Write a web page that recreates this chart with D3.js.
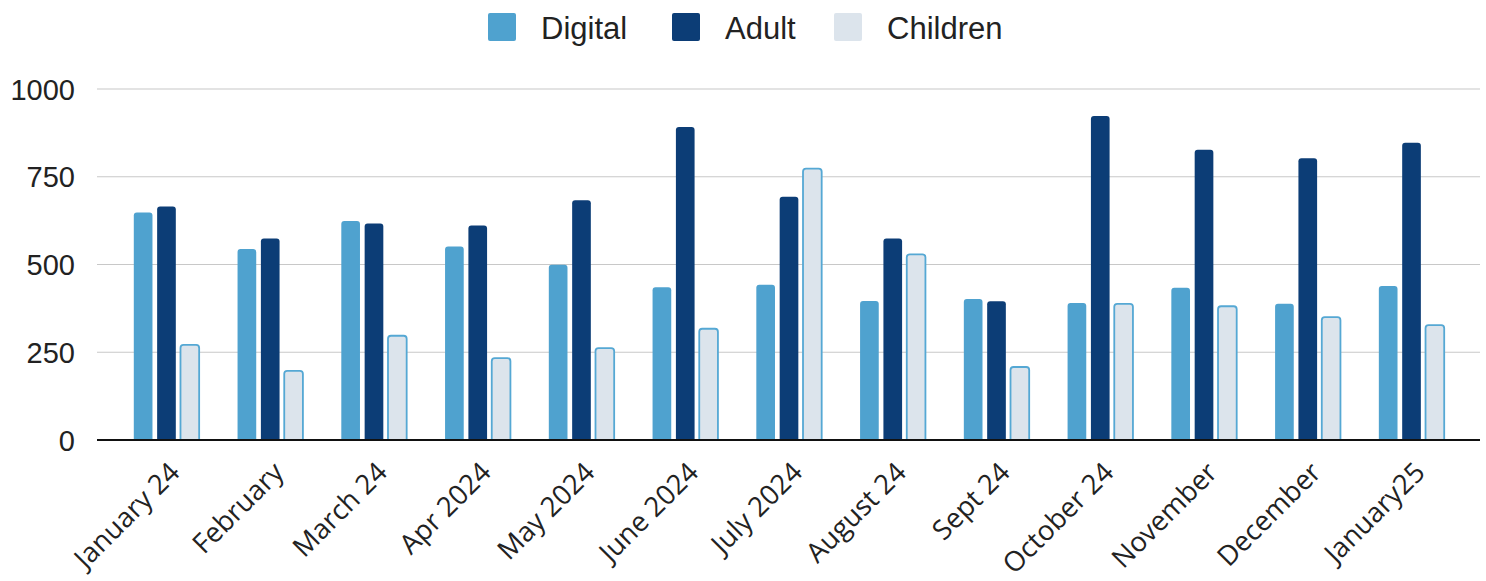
<!DOCTYPE html>
<html>
<head>
<meta charset="utf-8">
<script src="https://cdn.jsdelivr.net/npm/d3@7"></script>
<style>
  body { margin: 0; background: #fff; }
  svg { display: block; }
  .grid line { stroke: #c8c8c8; stroke-width: 1.2; }
  .ylab text { font-family: "Liberation Sans", Arial, sans-serif; font-size: 29px; fill: #222; }
  .xlab text { font-family: "Open Sans", sans-serif; font-size: 27.5px; fill: #222; }
  .legend text { font-family: "Liberation Sans", Arial, sans-serif; font-size: 31px; fill: #222; }
</style>
</head>
<body>
<div id="chart"></div>
<script>
const months = ["January 24", "February", "March 24", "Apr 2024", "May 2024", "June 2024",
  "July 2024", "August 24", "Sept 24", "October 24", "November", "December", "January25"];
const seriesNames = ["Digital", "Adult", "Children"];
const digital = [648, 544, 624, 551, 499, 435, 442, 396, 402, 390, 434, 388, 439];
const adult = [665, 574, 617, 611, 683, 892, 693, 574, 395, 923, 827, 803, 847];
const children = [271, 197, 297, 233, 262, 317, 773, 529, 208, 388, 381, 350, 327];
const yTicks = [0, 250, 500, 750, 1000];

const colors = { Digital: "#4fa2cf", Adult: "#0c3d76", Children: "#dce4ec" };
const strokes = { Digital: "none", Adult: "none", Children: "#55a8d4" };

const width = 1486, height = 581;
const rows = months.map((m, i) => ({
  month: m,
  values: [
    { key: "Digital", value: digital[i] },
    { key: "Adult", value: adult[i] },
    { key: "Children", value: children[i] },
  ],
}));

const svg = d3.select("#chart").append("svg")
  .attr("width", width).attr("height", height);

const x0 = d3.scaleBand().domain(months).range([98, 1480])
  .paddingInner(0.37).paddingOuter(0.345);
const x1 = d3.scaleBand().domain(seriesNames).range([0, x0.bandwidth()])
  .paddingInner(0.2);
const y = d3.scaleLinear().domain([0, 1000]).range([440, 89]);

// gridlines
svg.append("g").attr("class", "grid")
  .selectAll("line").data(yTicks.filter((d) => d > 0)).join("line")
  .attr("x1", 97).attr("x2", 1480)
  .attr("y1", (d) => y(d)).attr("y2", (d) => y(d));

// y labels
const yAxis = svg.append("g").attr("class", "ylab")
  .attr("transform", "translate(75,0)")
  .call(d3.axisLeft(y).tickValues(yTicks).tickFormat(d3.format("d")).tickSize(0).tickPadding(0));
yAxis.select(".domain").remove();
yAxis.selectAll("text").attr("dy", "0.35em");

// bars
const group = svg.append("g").selectAll("g").data(rows).join("g")
  .attr("transform", (d) => `translate(${x0(d.month)},0)`);

group.selectAll("path").data((d) => d.values).join("path")
  .attr("d", (d) => {
    const bx = x1(d.key), bw = x1.bandwidth();
    const top = y(d.value), bot = y(0), r = 3;
    return `M${bx},${bot}V${top + r}Q${bx},${top} ${bx + r},${top}H${bx + bw - r}Q${bx + bw},${top} ${bx + bw},${top + r}V${bot}Z`;
  })
  .attr("fill", (d) => colors[d.key])
  .attr("stroke", (d) => strokes[d.key])
  .attr("stroke-width", 1.8);

// baseline
svg.append("line")
  .attr("x1", 97).attr("x2", 1480)
  .attr("y1", y(0)).attr("y2", y(0))
  .attr("stroke", "#111").attr("stroke-width", 2.2);

// x labels
svg.append("g").attr("class", "xlab")
  .selectAll("text").data(months).join("text")
  .attr("text-anchor", "end")
  .attr("transform", (d) => `translate(${x0(d) + x0.bandwidth() / 2 + 15},474) rotate(-45)`)
  .text((d) => d);

// legend
const legendX = [488, 672, 834];
const legend = svg.append("g").attr("class", "legend")
  .selectAll("g").data(seriesNames).join("g")
  .attr("transform", (d, i) => `translate(${legendX[i]},13)`);
legend.append("rect")
  .attr("width", 28).attr("height", 28).attr("rx", 2)
  .attr("fill", (d) => colors[d]);
legend.append("text")
  .attr("x", 53).attr("y", 26)
  .text((d) => d);
</script>
</body>
</html>
